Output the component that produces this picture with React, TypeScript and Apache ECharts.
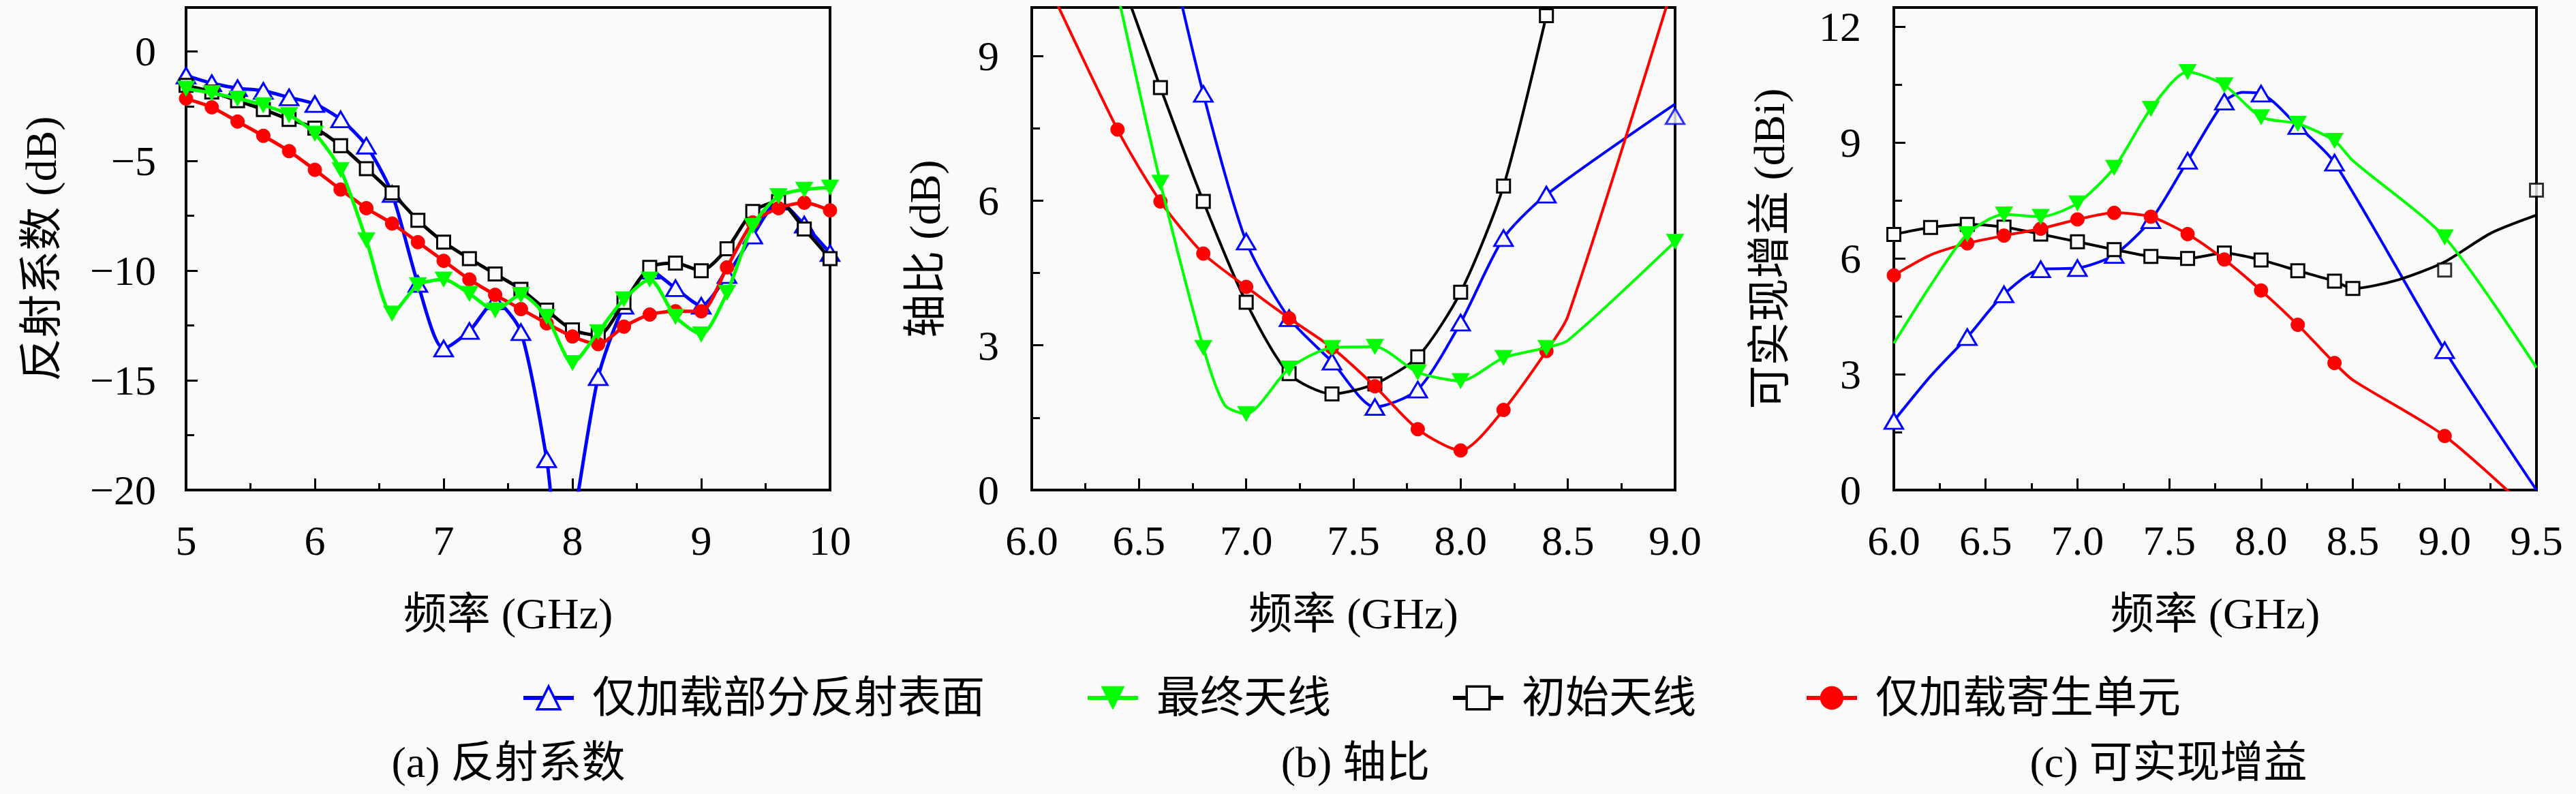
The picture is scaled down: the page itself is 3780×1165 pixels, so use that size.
import React, { useEffect, useRef } from 'react';
import * as echarts from 'echarts';

const FONT = "'Liberation Serif', 'Noto Sans CJK SC', serif";
const BG = '#fafafa';

const NAMES = ['仅加载部分反射表面', '最终天线', '初始天线', '仅加载寄生单元'];
const X_NAME = '频率 (GHz)';
const Y_NAMES = ['反射系数 (dB)', '轴比 (dB)', '可实现增益 (dBi)'];
const CAPTIONS = ['(a) 反射系数', '(b) 轴比', '(c) 可实现增益'];

// points: [freq (GHz), value, marker shown (1) / not shown (0)]
// (a) reflection coefficient
const aBlue = [[5.0,-1.1,1],[5.2,-1.45,1],[5.4,-1.68,1],[5.6,-1.8,1],[5.8,-2.1,1],[6.0,-2.4,1],[6.2,-3.1,1],[6.4,-4.3,1],[6.6,-6.5,1],[6.8,-10.6,1],[7.0,-13.55,1],[7.2,-12.75,1],[7.4,-11.4,1],[7.6,-12.8,1],[7.8,-18.6,1],[7.91,-23.7,0],[8.2,-14.85,1],[8.4,-11.6,1],[8.6,-10.0,1],[8.8,-10.8,1],[9.0,-11.6,1],[9.2,-10.2,1],[9.4,-8.4,1],[9.6,-6.85,1],[9.8,-7.9,1],[10.0,-9.2,1]];
const aGreen = [[5.0,-1.7,1],[5.2,-1.9,1],[5.4,-2.15,1],[5.6,-2.45,1],[5.8,-2.9,1],[6.0,-3.75,1],[6.2,-5.4,1],[6.4,-8.6,1],[6.6,-11.95,1],[6.8,-10.65,1],[7.0,-10.4,1],[7.2,-11.05,1],[7.4,-11.8,1],[7.6,-11.1,1],[7.8,-12.1,1],[8.0,-14.2,1],[8.2,-12.8,1],[8.4,-11.3,1],[8.6,-10.4,1],[8.8,-12.1,1],[9.0,-12.9,1],[9.2,-11.0,1],[9.4,-7.95,1],[9.6,-6.6,1],[9.8,-6.3,1],[10.0,-6.2,1]];
const aBlack = [[5.0,-1.55,1],[5.2,-1.85,1],[5.4,-2.25,1],[5.6,-2.65,1],[5.8,-3.1,1],[6.0,-3.5,1],[6.2,-4.3,1],[6.4,-5.35,1],[6.6,-6.45,1],[6.8,-7.7,1],[7.0,-8.7,1],[7.2,-9.45,1],[7.4,-10.15,1],[7.6,-10.85,1],[7.8,-11.8,1],[8.0,-12.7,1],[8.2,-12.95,1],[8.4,-11.45,1],[8.6,-9.85,1],[8.8,-9.65,1],[9.0,-10.0,1],[9.2,-9.0,1],[9.4,-7.3,1],[9.6,-6.85,1],[9.8,-8.1,1],[10.0,-9.45,1]];
const aRed = [[5.0,-2.15,1],[5.2,-2.55,1],[5.4,-3.2,1],[5.6,-3.85,1],[5.8,-4.55,1],[6.0,-5.4,1],[6.2,-6.3,1],[6.4,-7.15,1],[6.6,-7.85,1],[6.8,-8.7,1],[7.0,-9.55,1],[7.2,-10.4,1],[7.4,-11.1,1],[7.6,-11.75,1],[7.8,-12.4,1],[8.0,-13.0,1],[8.2,-13.35,1],[8.4,-12.55,1],[8.6,-12.0,1],[8.8,-11.85,1],[9.0,-11.85,1],[9.2,-9.85,1],[9.4,-7.8,1],[9.6,-7.15,1],[9.8,-6.9,1],[10.0,-7.25,1]];

// (b) axial ratio
const bBlue = [[6.6,12.0,0],[6.8,8.21,1],[7.0,5.15,1],[7.2,3.56,1],[7.4,2.66,1],[7.6,1.72,1],[7.8,2.08,1],[8.0,3.47,1],[8.2,5.22,1],[8.4,6.12,1],[9.0,8.0,0]];
const bBlueExtra = [[9.0,7.75]];
const bGreen = [[6.4,10.3,0],[6.6,6.37,1],[6.8,2.95,1],[6.9,1.76,0],[7.0,1.58,1],[7.2,2.52,1],[7.4,2.95,1],[7.6,2.97,1],[7.8,2.44,1],[8.0,2.26,1],[8.2,2.74,1],[8.4,2.95,1],[8.5,3.1,0],[9.0,5.15,1]];
const bBlack = [[6.4,10.8,0],[6.6,8.34,1],[6.8,5.98,1],[7.0,3.89,1],[7.2,2.41,1],[7.4,1.99,1],[7.6,2.2,1],[7.8,2.76,1],[8.0,4.1,1],[8.2,6.3,1],[8.4,9.83,1],[8.5,11.8,0]];
const bRed = [[6.0,11.2,0],[6.4,7.47,1],[6.6,5.98,1],[6.8,4.9,1],[7.0,4.21,1],[7.2,3.56,1],[7.4,2.95,1],[7.6,2.15,1],[7.8,1.26,1],[8.0,0.82,1],[8.2,1.66,1],[8.4,2.88,1],[8.5,3.6,0],[9.0,10.6,0]];

// (c) realized gain
const cBlue = [[6.0,1.79,1],[6.2,2.95,0],[6.4,3.96,1],[6.6,5.07,1],[6.8,5.72,1],[7.0,5.75,1],[7.2,6.09,1],[7.4,6.99,1],[7.6,8.53,1],[7.8,10.06,1],[7.9,10.3,0],[8.0,10.27,1],[8.2,9.43,1],[8.4,8.48,1],[9.0,3.62,1],[9.5,0.0,0]];
const cGreen = [[6.0,3.8,0],[6.2,5.3,0],[6.4,6.63,1],[6.6,7.14,1],[6.8,7.08,1],[7.0,7.43,1],[7.2,8.35,1],[7.4,9.88,1],[7.6,10.83,1],[7.8,10.49,1],[8.0,9.66,1],[8.2,9.49,1],[8.4,9.05,1],[8.5,8.53,0],[9.0,6.55,1],[9.5,3.17,0]];
const cBlack = [[6.0,6.62,1],[6.2,6.8,1],[6.4,6.88,1],[6.6,6.81,1],[6.8,6.63,1],[7.0,6.43,1],[7.2,6.23,1],[7.4,6.05,1],[7.6,6.0,1],[7.8,6.14,1],[8.0,5.96,1],[8.2,5.68,1],[8.4,5.41,1],[8.5,5.22,1],[8.75,5.45,0],[9.0,5.91,0],[9.25,6.65,0],[9.5,7.12,0]];
const cBlackExtra = [[9.0,5.7],[9.5,7.77]];
const cRed = [[6.0,5.56,1],[6.2,6.09,0],[6.4,6.39,1],[6.6,6.59,1],[6.8,6.77,1],[7.0,7.01,1],[7.2,7.18,1],[7.4,7.08,1],[7.6,6.63,1],[7.8,5.97,1],[8.0,5.17,1],[8.2,4.28,1],[8.4,3.29,1],[8.5,2.85,0],[9.0,1.4,1],[9.5,-0.7,0]];

// axis ranges: [min, max, label interval] / [min, max, major, minor]
const X_RANGES = [[5, 10, 1], [6, 9, 0.5], [6, 9.5, 0.5]];
const Y_RANGES = [[-20, 2, 5, 2.5], [0, 10, 3, 1.5], [0, 12.5, 3, 1.5]];

const STYLES = [
  { symbol: 'triangle', symbolSize: [27, 23], symbolRotate: 0, color: '#0000ff', fill: BG, bw: 3 },
  { symbol: 'triangle', symbolSize: [25, 22], symbolRotate: 180, color: '#00ff00', fill: '#00ff00', bw: 1 },
  { symbol: 'rect', symbolSize: 19, symbolRotate: 0, color: '#000000', fill: BG, bw: 3 },
  { symbol: 'circle', symbolSize: 20, symbolRotate: 0, color: '#ff0000', fill: '#ff0000', bw: 1 },
];

const GRIDS = [
  { left: 273, top: 11, width: 945, height: 708 },
  { left: 1514, top: 11, width: 944, height: 708 },
  { left: 2779, top: 11, width: 943, height: 708 },
];

const ZORDER = [0, 3, 1, 2];

function lineSeries(si: number, g: number, pts: number[][]) {
  const st = STYLES[si];
  return {
    type: 'line',
    name: NAMES[si],
    xAxisIndex: g,
    yAxisIndex: g,
    smooth: 0.25,
    clip: true,
    symbol: st.symbol,
    symbolSize: st.symbolSize,
    symbolRotate: st.symbolRotate,
    showSymbol: true,
    showAllSymbol: true,
    z: 2 + ZORDER[si],
    silent: true,
    lineStyle: { color: st.color, width: g === 0 ? 5 : 4 },
    itemStyle: { color: st.fill, borderColor: st.color, borderWidth: st.bw },
    data: pts.map((p) => (p[2] ? [p[0], p[1]] : { value: [p[0], p[1]], symbol: 'none' })),
  };
}

function markerSeries(si: number, g: number, pts: number[][]) {
  const st = STYLES[si];
  return {
    type: 'scatter',
    name: NAMES[si] + '-m',
    xAxisIndex: g,
    yAxisIndex: g,
    symbol: st.symbol,
    symbolSize: st.symbolSize,
    symbolRotate: st.symbolRotate,
    z: 2 + ZORDER[si],
    silent: true,
    itemStyle: { color: st.fill, borderColor: st.color, borderWidth: st.bw },
    data: pts.map((p) => [p[0], p[1]]),
  };
}

const isMult = (v: number, m: number) => Math.abs(v / m - Math.round(v / m)) < 1e-6;

export default function App() {
  const ref = useRef<HTMLDivElement>(null);
  useEffect(() => {
    document.body.style.margin = '0';
    const chart = echarts.init(ref.current!, undefined, { renderer: 'svg' });
    const xLabelFmt = [
      (v: number) => String(Math.round(v)),
      (v: number) => v.toFixed(1),
      (v: number) => v.toFixed(1),
    ];
    const yLabelMax = [0, 9, 12];
    const yMargins = [44, 48, 48];
    const yNameGaps = [181, 125, 151];

    const xAxis = GRIDS.map((_, i) => ({
      type: 'value',
      gridIndex: i,
      min: X_RANGES[i][0],
      max: X_RANGES[i][1],
      interval: X_RANGES[i][2],
      axisLine: { show: true, onZero: false, lineStyle: { color: '#000', width: 4 } },
      axisTick: { show: true, inside: true, length: 17, lineStyle: { color: '#000', width: 3 } },
      minorTick: { show: true, splitNumber: 2, length: 10, lineStyle: { color: '#000', width: 3 } },
      splitLine: { show: false },
      minorSplitLine: { show: false },
      axisLabel: {
        margin: 43,
        fontSize: 62,
        lineHeight: 62,
        fontFamily: FONT,
        color: '#000',
        showMinLabel: true,
        showMaxLabel: true,
        formatter: xLabelFmt[i],
      },
      name: X_NAME,
      nameLocation: 'middle',
      nameGap: 149,
      nameTextStyle: { fontSize: 64, lineHeight: 64, fontFamily: FONT, color: '#000' },
    }));

    const yMain = GRIDS.map((_, i) => ({
      type: 'value',
      gridIndex: i,
      position: 'left',
      min: Y_RANGES[i][0],
      max: Y_RANGES[i][1],
      interval: Y_RANGES[i][2],
      axisLine: { show: true, onZero: false, lineStyle: { color: '#000', width: 4 } },
      axisTick: { show: true, inside: true, length: 17, lineStyle: { color: '#000', width: 3 } },
      splitLine: { show: false },
      axisLabel: {
        margin: yMargins[i],
        fontSize: 62,
        lineHeight: 62,
        fontFamily: FONT,
        color: '#000',
        showMinLabel: true,
        formatter: (v: number) =>
          isMult(v, Y_RANGES[i][2]) && v <= yLabelMax[i] + 1e-9
            ? String(Math.round(v)).replace('-', '\u2212')
            : '',
      },
      name: Y_NAMES[i],
      nameLocation: 'middle',
      nameRotate: 90,
      nameGap: yNameGaps[i],
      nameTextStyle: { fontSize: 64, lineHeight: 64, fontFamily: FONT, color: '#000' },
    }));

    const yMinor = GRIDS.map((_, i) => ({
      type: 'value',
      gridIndex: i,
      position: 'left',
      offset: 0,
      min: Y_RANGES[i][0],
      max: Y_RANGES[i][1],
      interval: Y_RANGES[i][3],
      axisLine: { show: false, onZero: false },
      axisTick: { show: true, inside: true, length: 12, lineStyle: { color: '#000', width: 3 } },
      axisLabel: { show: false },
      splitLine: { show: false },
    }));

    const series: any[] = [
      lineSeries(0, 0, aBlue), lineSeries(2, 0, aBlack), lineSeries(3, 0, aRed), lineSeries(1, 0, aGreen),
      lineSeries(0, 1, bBlue), lineSeries(2, 1, bBlack), lineSeries(3, 1, bRed), lineSeries(1, 1, bGreen),
      markerSeries(0, 1, bBlueExtra),
      lineSeries(0, 2, cBlue), lineSeries(2, 2, cBlack), lineSeries(3, 2, cRed), lineSeries(1, 2, cGreen),
      markerSeries(2, 2, cBlackExtra),
    ];

    const legendLefts = [760, 1588, 2124, 2643];
    const legend = NAMES.map((n, i) => ({
      data: [n],
      orient: 'horizontal',
      left: legendLefts[i],
      top: 987,
      itemWidth: 74,
      itemHeight: 42,
      selectedMode: false,
      lineStyle: { width: 6 },
      itemStyle: { borderWidth: i === 0 || i === 2 ? 3.5 : 1 },
      textStyle: { fontSize: 64, fontFamily: FONT, color: '#000', padding: [0, 0, 0, 22] },
    }));

    const capX = [746, 1989, 3182];
    const graphic = CAPTIONS.map((t, i) => ({
      type: 'text',
      x: capX[i],
      y: 1118,
      silent: true,
      style: {
        text: t,
        fill: '#000',
        fontSize: 64,
        fontFamily: FONT,
        align: 'center',
        verticalAlign: 'middle',
      },
    }));

    chart.setOption({
      animation: false,
      backgroundColor: BG,
      grid: GRIDS.map((g) => ({
        ...g,
        show: true,
        borderColor: '#000',
        borderWidth: 4,
        backgroundColor: 'transparent',
        containLabel: false,
      })),
      xAxis,
      yAxis: [...yMain, ...yMinor],
      legend,
      graphic,
      series,
    });
    return () => chart.dispose();
  }, []);
  return (
    <div
      ref={ref}
      style={{ position: 'absolute', left: 0, top: 0, width: 3780, height: 1165 }}
    />
  );
}
